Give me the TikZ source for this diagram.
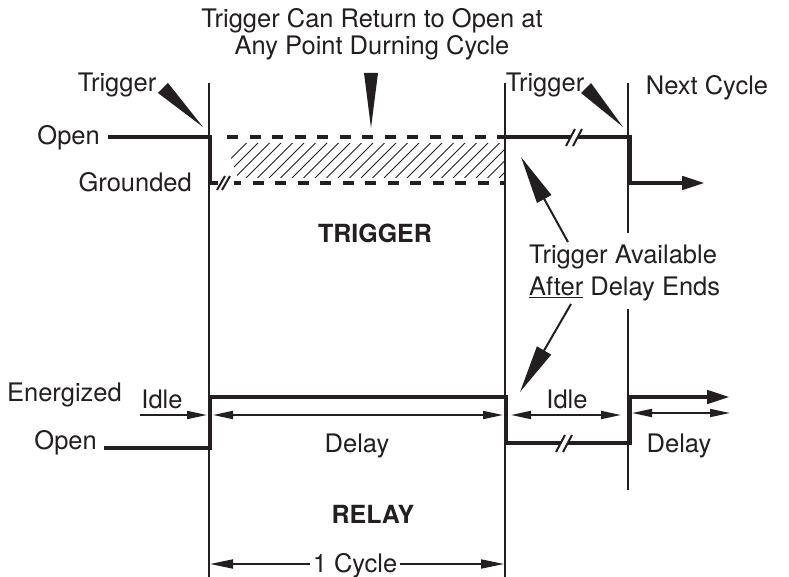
\documentclass[tikz,border=0pt]{standalone}
\usepackage{fontspec}
\setmainfont{TeX Gyre Heros}
\usetikzlibrary{arrows.meta}
\definecolor{ink}{RGB}{35,31,32}
\begin{document}
\begin{tikzpicture}[x=1pt,y=-1pt,
  every node/.style={text=ink,inner sep=0pt},
  lbl/.style={font=\fontsize{25.5}{30}\selectfont},
  bold lbl/.style={font=\fontsize{25}{30}\selectfont\bfseries},
  guide/.style={draw=ink,line width=2.3pt},
  wave/.style={draw=ink,line width=4.5pt},
  dashwave/.style={draw=ink,line width=4.5pt,dash pattern=on 11pt off 11.5pt},
  hatchline/.style={draw=ink,line width=0.9pt},
  slash/.style={draw=ink,line width=2pt},
  dimline/.style={draw=ink,line width=1.8pt},
  dimhead/.style={-{Triangle[length=20pt,width=8pt]}},
  bigdimhead/.style={-{Triangle[length=23pt,width=9pt]}},
  outhead/.style={-{Triangle[length=23pt,width=13pt]}},
  pointer/.style={draw=ink,line width=2pt,-{Triangle[length=48pt,width=16pt]}},
  wedge/.style={fill=ink}
]
\useasboundingbox (0,0) rectangle (789,577);

% ---------- guide lines ----------
\coordinate (g1t) at (209,83);  \coordinate (g1b) at (209,577);
\coordinate (g2t) at (505,83);  \coordinate (g2b) at (505,577);
\coordinate (g3t) at (628,83);  \coordinate (g3m1) at (628,233);
\coordinate (g3m2) at (628,309); \coordinate (g3b) at (628,490);
\draw[guide] (g1t) -- (g1b);
\draw[guide] (g2t) -- (g2b);
\draw[guide] (g3t) -- (g3m1);
\draw[guide] (g3m2) -- (g3b);

% ---------- texts ----------
\node[lbl,anchor=base] (title1) at (372,28) {Trigger Can Return to Open at};
\node[lbl,anchor=base] (title2) at (372,55) {Any Point Durning Cycle};
\node[lbl,anchor=base] (trigL) at (117,92) {Trigger};
\node[lbl,anchor=base] (trigR) at (545,92) {Trigger};
\node[lbl,anchor=base] (next) at (707,95) {Next Cycle};
\node[lbl,anchor=base east] (openT) at (100,145) {Open};
\node[lbl,anchor=base east] (gnd) at (192,192) {Grounded};
\node[bold lbl,anchor=base] (trigger) at (375,243) {TRIGGER};
\node[lbl,anchor=base west] (avail1) at (529,263) {Trigger Available};
\node[lbl,anchor=base west] (avail2) at (529,295) {\underline{After} Delay Ends};
\node[lbl,anchor=base east] (energ) at (122,401) {Energized};
\node[lbl,anchor=base] (idleL) at (162,408) {Idle};
\node[lbl,anchor=base east] (openR) at (97,449) {Open};
\node[lbl,anchor=base] (delayM) at (357,452) {Delay};
\node[lbl,anchor=base] (idleR) at (567,408) {Idle};
\node[lbl,anchor=base] (delayR) at (679,452) {Delay};
\node[bold lbl,anchor=base] (relay) at (373,523) {RELAY};
\node[lbl,anchor=base,inner xsep=3pt] (cycle) at (355,572) {1 Cycle};

% ---------- trigger waveform ----------
\coordinate (tOs) at (108,137);
\coordinate (tOe) at (210,137);
\coordinate (tGs) at (210,183);
\coordinate (tGe) at (218,183);
\draw[wave,line join=miter] (tOs) -- (tOe) -- (tGs) -- (tGe);
\draw[slash] (217,190) -- (225,176);
\draw[slash] (222,190) -- (230,176);
% dashed open/grounded band
\coordinate (dTs) at (227,137); \coordinate (dTe) at (508,137);
\coordinate (dBs) at (234,183); \coordinate (dBe) at (505,183);
\draw[dashwave] (dTs) -- (dTe);
\draw[dashwave,dash phase=4pt] (dBs) -- (dBe);
% hatching
\begin{scope}
  \clip (229,152) -- (238,143) -- (505,143) -- (505,178) -- (238,178) -- cycle;
  \foreach \k in {0,...,27} {
    \draw[hatchline] ({200+11.5*\k},178) -- ({235+11.5*\k},143);
  }
\end{scope}
% right part
\coordinate (rTs) at (505,137);
\coordinate (rTb1) at (571,137);
\coordinate (rTb2) at (578,137);
\coordinate (rTc) at (629.5,137);
\coordinate (rTd) at (629.5,183);
\coordinate (rTe) at (705,183);
\draw[wave] (rTs) -- (rTb1);
\draw[wave,line join=miter] (rTb2) -- (rTc) -- (rTd);
\draw[wave,outhead] (627.25,183) -- (rTe);
\draw[slash] (566,146) -- (575,129);
\draw[slash] (573,146) -- (582,129);

% ---------- pointers ----------
\fill[wedge] (158,93) -- (168,83) -- (203,127) -- cycle;
\fill[wedge] (581,93) -- (591,83) -- (623,127) -- cycle;
\fill[wedge] (364,73) -- (378,73) -- (371,128) -- cycle;
\coordinate (upTail) at (568,242);  \coordinate (upTip) at (521,157);
\coordinate (dnTail) at (571,304);  \coordinate (dnTip) at (520,392);
\draw[pointer] (upTail) -- (upTip);
\draw[pointer] (dnTail) -- (dnTip);

% ---------- relay waveform ----------
\coordinate (r1) at (104,448);
\coordinate (r2) at (210,448);
\coordinate (r3) at (210,397);
\coordinate (r4) at (506,397);
\coordinate (r5) at (506,443);
\coordinate (r6) at (561,443);
\coordinate (r7) at (568,443);
\coordinate (r8) at (629.5,443);
\coordinate (r9) at (629.5,397);
\coordinate (r10) at (730,397);
\draw[wave,line join=miter] (r1) -- (r2) -- (r3) -- (r4) -- (r5) -- (r6);
\draw[wave,line join=miter] (r7) -- (r8) -- (r9);
\draw[wave,outhead] (627.25,397) -- (r10);
\draw[slash] (556,452) -- (565,435);
\draw[slash] (563,452) -- (572,435);

% ---------- dimension arrows ----------
\coordinate (iLs) at (140,415); \coordinate (iLe) at (207,415);
\draw[dimline,dimhead] (iLs) -- (iLe);
\coordinate (dMs) at (213,415); \coordinate (dMe) at (503,415);
\draw[dimline,{Triangle[length=20pt,width=8pt]}-{Triangle[length=20pt,width=8pt]}] (dMs) -- (dMe);
\coordinate (iRs) at (511,415); \coordinate (iRe) at (621,415);
\draw[dimline,{Triangle[length=20pt,width=8pt]}-{Triangle[length=20pt,width=8pt]}] (iRs) -- (iRe);
\coordinate (dRs) at (632,413); \coordinate (dRe) at (730,413);
\draw[dimline,{Triangle[length=20pt,width=8pt]}-{Triangle[length=20pt,width=8pt]}] (dRs) -- (dRe);
% 1 cycle
\coordinate (cy) at (0,564);
\coordinate (cyL) at (210,564);
\coordinate (cyR) at (504,564);
\draw[dimline,bigdimhead] (cycle.west |- cy) -- (cyL);
\draw[dimline,bigdimhead] (cycle.east |- cy) -- (cyR);
\end{tikzpicture}
\end{document}
